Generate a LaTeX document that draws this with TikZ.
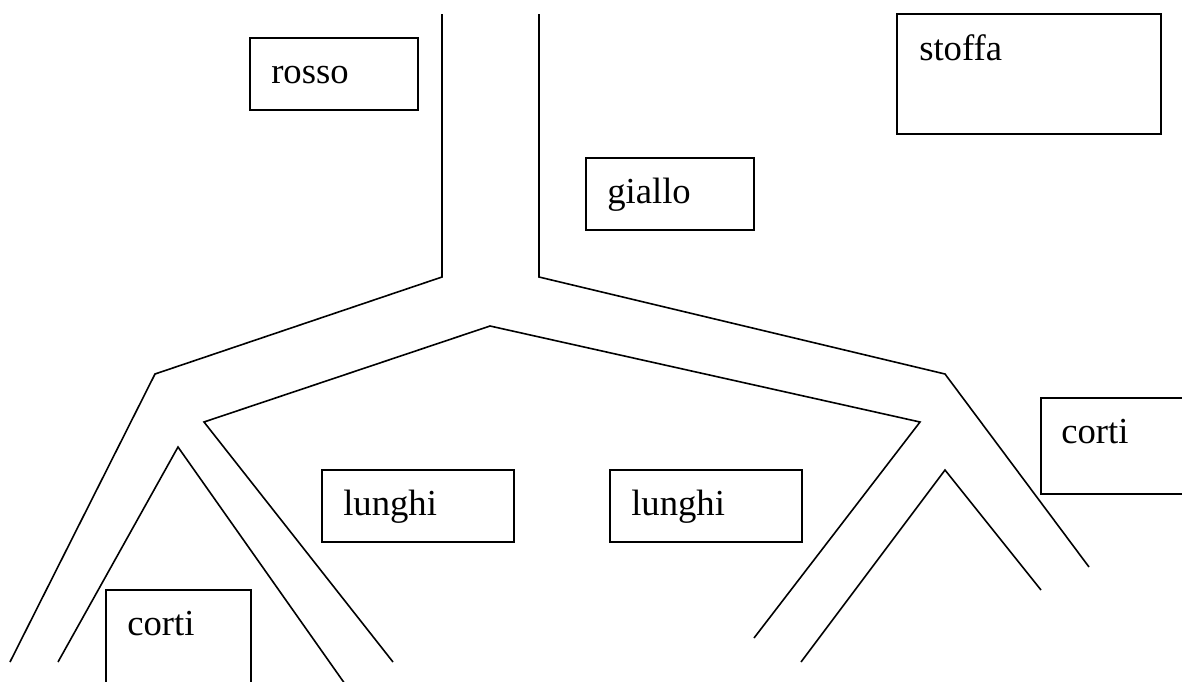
\documentclass[tikz,border=0pt]{standalone}
\usepackage{fontspec}
\setmainfont{Liberation Serif}
\begin{document}
\begin{tikzpicture}[x=0.75pt,y=-0.75pt,
  road/.style={line width=1.2pt,line join=miter},
  boxline/.style={line width=1.2pt},
  lbl/.style={anchor=base west,inner sep=0pt,font=\fontsize{27.5}{32}\selectfont}]
\useasboundingbox (0,0) rectangle (1182,682);
\fill[white] (0,0) rectangle (1182,682);
\begin{scope}
\clip (0,0) rectangle (1182,682);
% roads
\coordinate (lt) at (442,14);
\coordinate (lb) at (442,277);
\coordinate (lc) at (155,374);
\coordinate (le) at (10,662);
\draw[road] (lt) -- (lb) -- (lc) -- (le);
\coordinate (rt) at (539,14);
\coordinate (rb) at (539,277);
\coordinate (rc) at (945,374);
\coordinate (re) at (1089,567);
\draw[road] (rt) -- (rb) -- (rc) -- (re);
\coordinate (ia) at (490,326);
\coordinate (il) at (204,422);
\coordinate (ile) at (393,662);
\coordinate (ir) at (920,422);
\coordinate (ire) at (754,638);
\draw[road] (ile) -- (il) -- (ia) -- (ir) -- (ire);
\coordinate (sa) at (178,447);
\coordinate (sal) at (58,662);
\coordinate (sar) at (345,684);
\draw[road] (sal) -- (sa) -- (sar);
\coordinate (sb) at (945,470);
\coordinate (sbl) at (801,662);
\coordinate (sbr) at (1041,590);
\draw[road] (sbl) -- (sb) -- (sbr);
% boxes
\draw[boxline] (250,38) rectangle (418,110);
\node[lbl] (rosso) at (271,83) {rosso};
\draw[boxline] (586,158) rectangle (754,230);
\node[lbl] (giallo) at (607,203) {giallo};
\draw[boxline] (897,14) rectangle (1161,134);
\node[lbl] (stoffa) at (919,60) {stoffa};
\draw[boxline] (322,470) rectangle (514,542);
\node[lbl] (lunghiA) at (343,515) {lunghi};
\draw[boxline] (610,470) rectangle (802,542);
\node[lbl] (lunghiB) at (631,515) {lunghi};
\draw[boxline] (106,690) -- (106,590) -- (251,590) -- (251,690);
\node[lbl] (cortiA) at (127,635) {corti};
\draw[boxline] (1190,398) -- (1041,398) -- (1041,494) -- (1190,494);
\node[lbl] (cortiB) at (1061,443) {corti};
\end{scope}
\end{tikzpicture}
\end{document}
